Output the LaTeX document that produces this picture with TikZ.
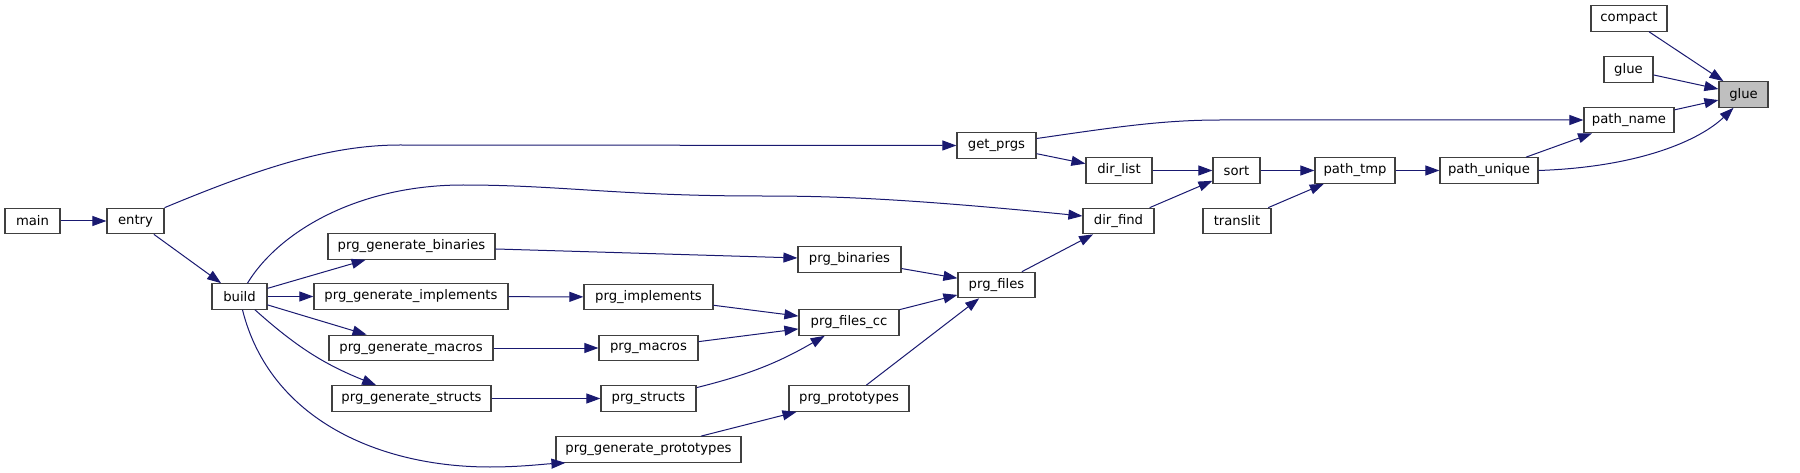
\documentclass[tikz,border=0pt]{standalone}
\usepackage{fontspec}
\setmainfont{DejaVu Sans}
\usepackage{xcolor}
\usetikzlibrary{arrows.meta}
\definecolor{cEdge}{HTML}{191970}
\definecolor{cFrame}{HTML}{404040}
\definecolor{cHit}{HTML}{BFBFBF}
\tikzset{
  fbox/.style={draw=cFrame,fill=#1,line width=1.2pt,font=\fontsize{13.2}{15}\selectfont,inner xsep=4pt,inner ysep=0pt,minimum height=25.5pt,text=black},
  fbox/.default=white,
  call/.style={-{Triangle[length=14pt,width=10pt]},line width=1pt,color=cEdge},
}
\begin{document}
\begin{tikzpicture}[x=1pt,y=-1pt]
          \useasboundingbox (0,0) rectangle (1800,473);
          \foreach \n/\x/\y/\w/\t in {main/32.5/221/55/main,entry/135.5/221/57/entry,build/239.5/296.5/55/build,
            genbin/411.5/246.5/167/prg\_generate\_binaries,genimpl/411/296.5/194/prg\_generate\_implements,
            genmac/411/348/164/prg\_generate\_macros,genstr/411.5/398.5/159/prg\_generate\_structs,
            genproto/648.5/449.5/185/prg\_generate\_prototypes,bin/849.5/259.5/103/prg\_binaries,
            impl/648.5/297/129/prg\_implements,filescc/849/322.5/100/prg\_files\_cc,mac/648.5/348/99/prg\_macros,
            str/648.5/398.5/95/prg\_structs,proto/849/398.5/120/prg\_prototypes,files/996.5/285/77/prg\_files,
            getprgs/996.5/145.5/79/get\_prgs,dirlist/1119/170.5/66/dir\_list,dirfind/1118.5/221/71/dir\_find,
            sort/1236.5/170.5/47/sort,translit/1237/221/68/translit,pathtmp/1355/170.5/80/path\_tmp,
            pathuniq/1489/170.5/98/path\_unique,pathname/1629/120/90/path\_name,compact/1629/18.5/76/compact,
            glueA/1628.5/69.5/49/glue}{\node[fbox,minimum width=\w pt] (\n) at (\x,\y) {\t};}
          \node[fbox=cHit,minimum width=49pt] (glue) at (1743.5,94.5) {glue};
          \draw[call] (main) -- (entry);
          \draw[call] (entry) -- (build);
          \draw[call] (entry.north east) .. controls (260,168) and (330,145) .. (400,145) -- (getprgs.west);
          \draw[call] ([xshift=8pt]build.north) .. controls (280,230) and (360,185) .. (463,185) .. controls (560,185) and (620,196) .. (760,196) .. controls (830,196) and (900,198) .. ([yshift=5pt]dirfind.west);
          \foreach \a/\b in {build/genbin,build/genimpl,build/genmac,genbin/bin,genimpl/impl,genmac/mac,genstr/str,genproto/proto,
            impl/filescc,mac/filescc,bin/files,filescc/files,proto/files,files/dirfind,getprgs/dirlist,dirlist/sort,dirfind/sort,
            sort/pathtmp,translit/pathtmp,pathtmp/pathuniq,pathuniq/pathname,pathname/glue,glueA/glue,compact/glue}{\draw[call] (\a) -- (\b);}
          \draw[call] (build) to[bend right=10] (genstr);
          \draw[call] (str) to[bend right=8] (filescc);
          \draw[call] ([xshift=3pt]build.south) .. controls (270,420) and (380,467) .. (490,467) .. controls (520,467) and (545,464) .. ([xshift=10pt]genproto.south west);
          \draw[call] ([yshift=7pt]getprgs.east) .. controls (1110,128) and (1160,120) .. (1220,120) -- (pathname.west);
          \draw[call] (pathuniq.east) .. controls (1640,167) and (1700,140) .. ([xshift=-10pt]glue.south);
        \end{tikzpicture}
\end{document}
